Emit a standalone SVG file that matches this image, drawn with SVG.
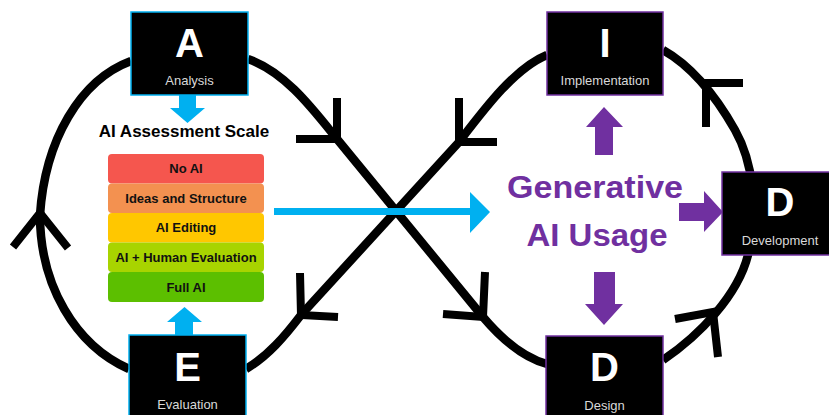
<svg xmlns="http://www.w3.org/2000/svg" width="829" height="415" viewBox="0 0 829 415">
  <style>
    .loop { fill: none; stroke: #000; stroke-width: 8.5; stroke-linecap: butt; }
    .head { fill: none; stroke: #000; stroke-width: 8; stroke-linejoin: miter; stroke-linecap: butt; }
    .box { fill: #000; stroke-width: 1.5; }
    .blue { stroke: #00B0F0; }
    .purple { stroke: #7030A0; }
    .letter { font-family: "Liberation Sans", Arial, sans-serif; font-weight: bold; font-size: 40px; fill: #fff; text-anchor: middle; }
    .label { font-family: "Liberation Sans", Arial, sans-serif; font-size: 13px; fill: #d9d9d9; text-anchor: middle; }
    .level { font-family: "Liberation Sans", Arial, sans-serif; font-weight: bold; font-size: 13px; fill: #111; text-anchor: middle; }
    .usage { font-family: "Liberation Sans", Arial, sans-serif; font-weight: bold; font-size: 32px; fill: #7030A0; text-anchor: middle; }
  </style>

  <rect width="829" height="415" fill="#fff"/>

  <!-- figure-eight cycle with chevron arrowheads -->
  <g id="connectors">
    <!-- A -> crossing -> Design -->
    <path class="loop" d="M248,59 C285,72 312,108 337,139 L483,317 C505,343 525,358 547,364"/>
    <!-- I -> crossing -> E -->
    <path class="loop" d="M547,55 C515,68 485,108 459,142 L301,315 C285,336 268,356 246,369"/>
    <!-- Design -> Development -> I -->
    <path class="loop" d="M663,360 C700,335 738,295 748,255 C760,210 752,160 735,130 C718,100 695,68 663,50"/>
    <!-- E -> A -->
    <path class="loop" d="M129,369 C75,345 40,285 40,215 C45,140 80,80 131,61"/>

    <polyline class="head" points="296,139 337,139 337,98"/>
    <polyline class="head" points="459,98 459,142 497,142"/>
    <polyline class="head" points="300,273 301,315 338,317"/>
    <polyline class="head" points="485,272 483,317 443,314"/>
    <polyline class="head" points="675,319 713,312 718,357"/>
    <polyline class="head" points="743,83 706,83 706,127"/>
    <polyline class="head" points="13,247 40,213 68,248"/>

    <!-- flow arrows -->
    <polygon fill="#00B0F0" points="179,95 196,95 196,108 205,108 187.5,123 170,108 179,108"/>
    <polygon fill="#00B0F0" points="184.5,307 202,322 193,322 193,336 175,336 175,322 167,322"/>
    <polygon fill="#00B0F0" points="274,208 470,208 470,192 490,212 470,233 470,215 274,215"/>
    <polygon fill="#7030A0" points="604,107 623,127 613,127 613,155 595,155 595,127 586,127"/>
    <polygon fill="#7030A0" points="594,272 615,272 615,304 623,304 604,325 585,304 594,304"/>
    <polygon fill="#7030A0" points="679,203 704,203 704,191 723,212 704,232 704,221 679,221"/>
  </g>

  <g id="node-analysis">
    <rect class="box blue" x="131" y="12" width="117" height="83"/>
    <text class="letter" x="189.5" y="57">A</text>
    <text class="label" x="189.5" y="85">Analysis</text>
  </g>

  <g id="node-evaluation">
    <rect class="box blue" x="129" y="335" width="117" height="84"/>
    <text class="letter" x="187.5" y="381">E</text>
    <text class="label" x="187.5" y="409">Evaluation</text>
  </g>

  <g id="node-implementation">
    <rect class="box purple" x="547" y="12" width="116" height="83"/>
    <text class="letter" x="605" y="57">I</text>
    <text class="label" x="605" y="85">Implementation</text>
  </g>

  <g id="node-development">
    <rect class="box purple" x="722" y="172" width="116" height="83"/>
    <text class="letter" x="780" y="216">D</text>
    <text class="label" x="780" y="245">Development</text>
  </g>

  <g id="node-design">
    <rect class="box purple" x="546" y="336" width="117" height="84"/>
    <text class="letter" x="604.5" y="381">D</text>
    <text class="label" x="604.5" y="410">Design</text>
  </g>

  <g id="scale">
    <text x="184" y="137" font-family="Liberation Sans, Arial, sans-serif" font-weight="bold" font-size="17" text-anchor="middle" fill="#000">AI Assessment Scale</text>
    <rect x="108" y="154" width="156" height="29.5" rx="4" fill="#F5564E"/>
    <rect x="108" y="183.5" width="156" height="29.5" rx="4" fill="#F39150"/>
    <rect x="108" y="213" width="156" height="29.5" rx="4" fill="#FFC700"/>
    <rect x="108" y="242.5" width="156" height="29.5" rx="4" fill="#A8D400"/>
    <rect x="108" y="272" width="156" height="30" rx="4" fill="#5CBF00"/>
    <text class="level" x="186" y="173">No AI</text>
    <text class="level" x="186" y="203">Ideas and Structure</text>
    <text class="level" x="186" y="232">AI Editing</text>
    <text class="level" x="186" y="262">AI + Human Evaluation</text>
    <text class="level" x="186" y="291.5">Full AI</text>
  </g>

  <g id="generative-ai-usage">
    <text class="usage" x="595" y="198" textLength="176" lengthAdjust="spacingAndGlyphs">Generative</text>
    <text class="usage" x="597" y="246" textLength="141" lengthAdjust="spacingAndGlyphs">AI Usage</text>
  </g>
</svg>
